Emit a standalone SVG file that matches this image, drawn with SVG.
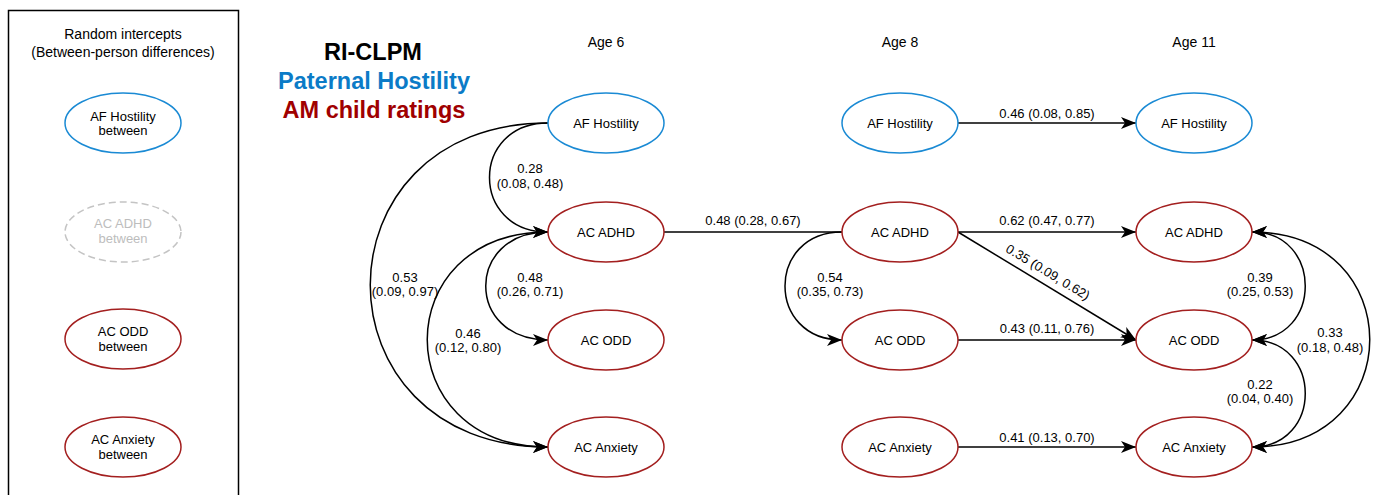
<svg xmlns="http://www.w3.org/2000/svg" width="1373" height="495" viewBox="0 0 1373 495">
<style>
text{font-family:"Liberation Sans",Arial,sans-serif;fill:#000}
.n{font-size:13px;text-anchor:middle}
.lb{font-size:13px;text-anchor:middle}
.hd{font-size:14px;text-anchor:middle}
.ttl{font-size:23.5px;font-weight:bold;text-anchor:middle}
.blue{fill:#fff;stroke:#1a8ad4;stroke-width:1.5}
.red{fill:#fff;stroke:#a31f1f;stroke-width:1.5}
.gray{fill:#fff;stroke:#c4c4c4;stroke-width:1.5;stroke-dasharray:7 4}
.c{fill:none;stroke:#000;stroke-width:1.5}
.e{marker-end:url(#arr)}
.s{marker-start:url(#arr)}
</style>
<defs>
<marker id="arr" markerUnits="userSpaceOnUse" markerWidth="16" markerHeight="12" viewBox="0 0 16 12" refX="15" refY="6" orient="auto-start-reverse" overflow="visible">
<path d="M0,0 L15,6 L0,12 L4,6 Z" fill="#000"/>
</marker>
</defs>
<rect width="1373" height="495" fill="#fff"/>

<g id="panel">
<rect x="8.5" y="10.5" width="230" height="500" fill="none" stroke="#000" stroke-width="1.5"/>
<text class="hd" x="123" y="39">Random intercepts</text>
<text class="hd" x="123" y="57">(Between-person differences)</text>
</g>

<g id="title">
<text class="ttl" x="373" y="60">RI-CLPM</text>
<text class="ttl" x="374" y="89" style="fill:#0b7bc7">Paternal Hostility</text>
<text class="ttl" x="374" y="118" style="fill:#a00000">AM child ratings</text>
</g>

<g id="headings">
<text class="hd" x="606" y="47">Age 6</text>
<text class="hd" x="900" y="47">Age 8</text>
<text class="hd" x="1194" y="47">Age 11</text>
</g>

<g id="connectors">
<path class="c e" d="M548,123 C470,123 470,232 548,232"/>
<path class="c e" d="M548,123 C311,123 311,447 548,447"/>
<path class="c e" d="M548,232 C465,232 465,340 548,340"/>
<path class="c e s" d="M548,232 C387,232 387,447 548,447"/>
<path class="c" d="M664,232 H842"/>
<path class="c e" d="M842,232 C766,232 766,340 842,340"/>
<path class="c e" d="M958,123 H1136"/>
<path class="c e" d="M958,232 H1136"/>
<path class="c e" d="M958,232 L1136,340"/>
<path class="c e" d="M958,340 H1136"/>
<path class="c e" d="M958,447 H1136"/>
<path class="c e s" d="M1252,232 C1323,232 1323,340 1252,340"/>
<path class="c e s" d="M1252,340 C1323,340 1323,447 1252,447"/>
<path class="c e s" d="M1252,232 C1409,232 1409,447 1252,447"/>
</g>

<g id="labels">
<text class="lb" x="530" y="172.5">0.28</text>
<text class="lb" x="530" y="187.5">(0.08, 0.48)</text>
<text class="lb" x="405" y="281.5">0.53</text>
<text class="lb" x="405" y="295.5">(0.09, 0.97)</text>
<text class="lb" x="530" y="281.5">0.48</text>
<text class="lb" x="530" y="295.5">(0.26, 0.71)</text>
<text class="lb" x="468" y="337.5">0.46</text>
<text class="lb" x="468" y="351.5">(0.12, 0.80)</text>
<text class="lb" x="753" y="224.5">0.48 (0.28, 0.67)</text>
<text class="lb" x="830" y="281.5">0.54</text>
<text class="lb" x="830" y="295.5">(0.35, 0.73)</text>
<text class="lb" x="1047" y="117.5">0.46 (0.08, 0.85)</text>
<text class="lb" x="1047" y="224.5">0.62 (0.47, 0.77)</text>
<text class="lb" transform="translate(1048,272) rotate(31.2)" x="0" y="4.5">0.35 (0.09, 0.62)</text>
<text class="lb" x="1047" y="332.5">0.43 (0.11, 0.76)</text>
<text class="lb" x="1047" y="441.5">0.41 (0.13, 0.70)</text>
<text class="lb" x="1260" y="281.5">0.39</text>
<text class="lb" x="1260" y="295.5">(0.25, 0.53)</text>
<text class="lb" x="1330" y="336.5">0.33</text>
<text class="lb" x="1330" y="351.5">(0.18, 0.48)</text>
<text class="lb" x="1260" y="388.5">0.22</text>
<text class="lb" x="1260" y="402.5">(0.04, 0.40)</text>
</g>

<g id="ri-af"><ellipse class="blue" cx="123" cy="123" rx="58" ry="30"/><text class="n" x="123" y="121">AF Hostility</text><text class="n" x="123" y="135">between</text></g>
<g id="ri-adhd"><ellipse class="gray" cx="123" cy="232" rx="58" ry="30"/><text class="n" x="123" y="228" style="fill:#bdbdbd">AC ADHD</text><text class="n" x="123" y="243" style="fill:#bdbdbd">between</text></g>
<g id="ri-odd"><ellipse class="red" cx="123" cy="339" rx="58" ry="30"/><text class="n" x="123" y="336">AC ODD</text><text class="n" x="123" y="351">between</text></g>
<g id="ri-anx"><ellipse class="red" cx="123" cy="447" rx="58" ry="30"/><text class="n" x="123" y="444">AC Anxiety</text><text class="n" x="123" y="459">between</text></g>

<g id="af6"><ellipse class="blue" cx="606" cy="123" rx="58" ry="30"/><text class="n" x="606" y="127.5">AF Hostility</text></g>
<g id="adhd6"><ellipse class="red" cx="606" cy="232" rx="58" ry="30"/><text class="n" x="606" y="236.5">AC ADHD</text></g>
<g id="odd6"><ellipse class="red" cx="606" cy="340" rx="58" ry="30"/><text class="n" x="606" y="344.5">AC ODD</text></g>
<g id="anx6"><ellipse class="red" cx="606" cy="447" rx="58" ry="30"/><text class="n" x="606" y="451.5">AC Anxiety</text></g>

<g id="af8"><ellipse class="blue" cx="900" cy="123" rx="58" ry="30"/><text class="n" x="900" y="127.5">AF Hostility</text></g>
<g id="adhd8"><ellipse class="red" cx="900" cy="232" rx="58" ry="30"/><text class="n" x="900" y="236.5">AC ADHD</text></g>
<g id="odd8"><ellipse class="red" cx="900" cy="340" rx="58" ry="30"/><text class="n" x="900" y="344.5">AC ODD</text></g>
<g id="anx8"><ellipse class="red" cx="900" cy="447" rx="58" ry="30"/><text class="n" x="900" y="451.5">AC Anxiety</text></g>

<g id="af11"><ellipse class="blue" cx="1194" cy="123" rx="58" ry="30"/><text class="n" x="1194" y="127.5">AF Hostility</text></g>
<g id="adhd11"><ellipse class="red" cx="1194" cy="232" rx="58" ry="30"/><text class="n" x="1194" y="236.5">AC ADHD</text></g>
<g id="odd11"><ellipse class="red" cx="1194" cy="340" rx="58" ry="30"/><text class="n" x="1194" y="344.5">AC ODD</text></g>
<g id="anx11"><ellipse class="red" cx="1194" cy="447" rx="58" ry="30"/><text class="n" x="1194" y="451.5">AC Anxiety</text></g>
</svg>
